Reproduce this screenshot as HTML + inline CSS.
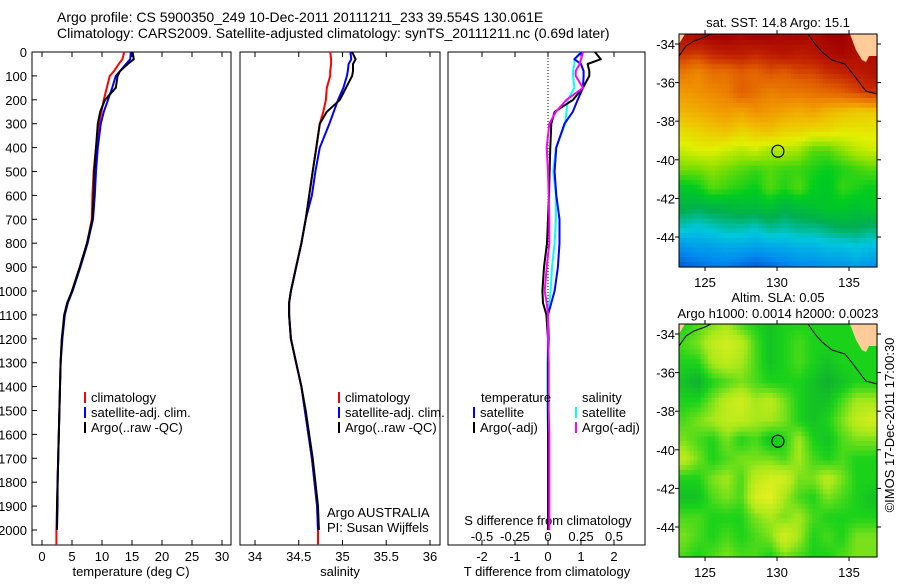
<!DOCTYPE html>
<html><head><meta charset="utf-8">
<style>
html,body{margin:0;padding:0;background:#fff;}
svg text{font-family:"Liberation Sans",sans-serif;font-size:13px;fill:#000;}
</style></head>
<body>
<svg id="chart" width="900" height="580" viewBox="0 0 900 580" xmlns="http://www.w3.org/2000/svg">
<rect width="900" height="580" fill="#fff"/>
<text x="57" y="22" style="font-size:14px">Argo profile: CS 5900350_249 10-Dec-2011 20111211_233 39.554S 130.061E</text>
<text x="57" y="38" style="font-size:14px">Climatology: CARS2009. Satellite-adjusted climatology: synTS_20111211.nc (0.69d later)</text>
<g id="g"></g>
</svg>
<script>
// ---- profile data ----
const depths = [0,30,50,80,100,150,200,250,300,400,500,600,700,800,900,1000,1050,1100,1200,1300,1400,1500,1600,1700,1800,1900,2000,2060];
const tempClim = [13.7,13.4,12.8,12.0,11.3,10.8,10.3,9.9,9.5,9.0,8.6,8.4,8.3,7.5,6.3,5.0,4.3,3.8,3.3,3.1,3.0,2.9,2.8,2.7,2.6,2.5,2.4,2.4];
const tempSat = [14.8,14.7,14.0,13.0,12.3,11.7,11.0,10.3,9.8,9.3,9.0,8.8,8.5,7.6,6.4,5.1,4.3,3.8,3.4,3.1,3.0,2.9,2.8,2.7,2.6,2.6,2.5,null];
const tempArgo = [15.1,15.3,14.3,13.0,12.6,12.3,10.5,9.7,9.3,9.0,8.7,8.6,8.4,7.5,6.3,5.0,4.2,3.7,3.3,3.1,3.0,2.9,2.8,2.7,2.6,2.5,2.5,null];
const salClim = [34.86,34.87,34.87,34.86,34.86,34.82,34.81,34.78,34.74,34.70,34.66,34.62,34.58,34.53,34.47,34.41,34.39,34.39,34.41,34.47,34.53,34.57,34.61,34.65,34.68,34.71,34.72,34.72];
const salSat = [35.09,35.10,35.07,35.06,35.05,35.01,34.95,34.90,34.85,34.74,34.69,34.65,34.58,34.53,34.47,34.41,34.39,34.39,34.41,34.47,34.53,34.57,34.61,34.65,34.68,34.71,34.72,null];
const salArgo = [35.11,35.15,35.12,35.12,35.11,35.04,34.97,34.82,34.74,34.70,34.66,34.62,34.58,34.53,34.47,34.41,34.39,34.39,34.41,34.47,34.53,34.58,34.62,34.66,34.69,34.72,34.73,null];
const dTArgo = [1.42,1.6,1.2,1.25,1.25,1.06,0.76,0.2,0.1,0.07,0.05,0.03,0.0,-0.03,-0.12,-0.17,-0.15,-0.05,0.0,0.0,0.0,0.0,0.0,0.0,0.0,0.0,0.0,null];
const dTSat = [1.02,0.8,1.0,1.08,1.08,1.06,0.9,0.75,0.5,0.25,0.2,0.25,0.35,0.35,0.3,0.2,0.1,0.0,0.02,0.0,0.0,0.0,0.0,0.0,0.0,0.0,0.0,null];
const dSArgo = [0.265,0.25,0.24,0.21,0.21,0.265,0.14,0.06,0.01,-0.01,0.0,0.005,0.01,0.01,-0.01,-0.025,-0.01,0.0,0.0,0.005,0.005,0.005,0.01,0.01,0.01,0.01,0.01,null];
const dSSat = [0.25,0.2,0.2,0.19,0.19,0.2,0.15,0.14,0.13,0.06,0.04,0.06,0.06,0.05,0.03,0.02,0.01,0.0,0.0,-0.005,-0.005,-0.005,0.0,0.0,0.0,0.0,0.0,null];
const depthTicks = [0,100,200,300,400,500,600,700,800,900,1000,1100,1200,1300,1400,1500,1600,1700,1800,1900,2000];
const tempTicks = [0,5,10,15,20,25,30];
const salTicks = [34,34.5,35,35.5,36];
const salTickLabels = ["34","34.5","35","35.5","36"];
const dTTicks = [-2,-1,0,1,2];
const dSTicks = [-0.5,-0.25,0,0.25,0.5];
const dSTickLabels = ["-0.5","-0.25","0","0.25","0.5"];
// ---- map data ----
const mapLons = [123.5,124.5,125.5,126.5,127.5,128.5,129.5,130.5,131.5,132.5,133.5,134.5,135.5,136.5];
const mapLats = [-33.5,-34.5,-35.5,-36.5,-37.5,-38.5,-39.5,-40.5,-41.5,-42.5,-43.5,-44.5,-45.5];
const sstGrid = [
[17.6,17.7,17.8,17.8,17.7,17.8,17.8,17.7,17.8,17.6,17.8,17.8,17.6,17.6],
[17.2,17.1,17.3,17.4,17.4,17.3,17.4,17.5,17.4,17.5,17.6,17.7,17.6,17.6],
[16.5,16.3,16.6,16.6,16.8,16.7,16.9,16.8,17.0,17.0,17.2,17.3,17.4,17.5],
[16.1,16.2,16.3,16.4,16.8,16.6,16.4,16.5,16.5,16.6,16.7,16.8,17.0,17.2],
[15.8,15.9,16.0,16.1,16.0,16.2,16.1,16.0,15.9,16.0,15.8,15.7,15.6,15.6],
[15.4,15.5,15.6,15.7,15.5,15.6,15.7,15.5,15.5,15.4,15.4,15.3,15.3,15.3],
[15.1,15.2,15.2,15.1,15.0,15.1,14.9,15.0,14.9,14.6,14.6,14.8,15.0,15.1],
[14.7,14.7,14.8,14.7,14.6,14.5,14.6,14.5,14.5,14.4,14.3,14.4,14.5,14.6],
[14.2,14.3,14.6,14.5,14.4,14.3,14.6,14.4,14.6,14.3,14.2,14.5,14.4,14.3],
[13.9,13.8,13.9,13.9,14.0,14.0,14.1,13.9,14.0,14.1,14.2,14.2,14.1,14.2],
[13.4,13.3,13.4,13.5,13.5,13.4,13.6,13.5,13.6,13.6,13.7,13.8,13.8,13.7],
[12.8,12.9,12.9,13.0,13.0,12.9,13.0,13.0,13.1,13.1,13.2,13.2,13.3,13.2],
[12.4,12.5,12.6,12.6,12.5,12.4,12.5,12.6,12.7,12.7,12.8,12.8,12.9,12.8]];
const slaGrid = [
[.3,.4,.5,.6,.4,.3,.2,.3,.3,.3,.3,.3,.3,.3],
[.4,.5,.7,.8,.7,.4,.2,.3,.4,.3,.3,.3,.3,.3],
[.3,.3,.6,.7,.6,.4,.2,.3,.4,.3,.2,.3,.3,.3],
[.2,.1,.3,.4,.5,.4,.3,.3,.3,.2,.1,.2,.3,.3],
[.3,.3,.5,.7,.8,.6,.7,.5,.3,.2,.2,.4,.6,.6],
[.4,.5,.6,.7,.7,.6,.6,.5,.3,.2,.3,.5,.7,.8],
[.5,.4,.3,.5,.3,.4,.2,.3,.6,.3,.2,.4,.5,.5],
[.7,.5,.3,.4,.5,.5,.5,.4,.6,.4,.3,.4,.3,.3],
[.3,.3,.5,.6,.4,.7,.8,.8,.5,.5,.7,.5,.3,.3],
[.2,.2,.4,.5,.4,.8,.9,.6,.4,.3,.5,.4,.3,.2],
[.4,.4,.3,.3,.3,.5,.6,.5,.6,.4,.3,.3,.3,.3],
[.5,.4,.3,.4,.3,.4,.5,.8,.6,.3,.4,.3,.5,.5],
[.4,.3,.4,.5,.4,.4,.3,.5,.4,.3,.3,.4,.5,.5]];
const lonTicks = [125,130,135];
const latTicks = [-34,-36,-38,-40,-42,-44];
const argoLon = 130.061, argoLat = -39.554;

const NS="http://www.w3.org/2000/svg";
const G=document.getElementById('g');
function mk(tag,attrs,parent){const e=document.createElementNS(NS,tag);for(const k in attrs)e.setAttribute(k,attrs[k]);(parent||G).appendChild(e);return e;}
function txt(x,y,s,anchor,parent){const t=mk('text',{x:x,y:y,'text-anchor':anchor||'start'},parent);t.textContent=s;return t;}

const PT=52, PB=545;
const yD = d => PT + d*0.239;
const P1={l:32,r:231}, P2={l:240,r:440}, P3={l:448,r:645};
const xT = v => 42 + v*6;
const xS = v => 255 + (v-34)*87.5;
const xDT = v => 548 + v*33;
const xDS = v => 548 + v*132;

function frame(p,name){const r=mk('rect',{x:p.l,y:PT,width:p.r-p.l,height:PB-PT,fill:'none',stroke:'#000','stroke-width':1});

}
frame(P1,'temperature-plot-frame');frame(P2,'salinity-plot-frame');frame(P3,'difference-plot-frame');

// depth ticks
depthTicks.forEach(d=>{
  const y=yD(d);
  mk('line',{x1:P1.l,x2:P1.l+5,y1:y,y2:y,stroke:'#000'});
  const t=txt(27,y+5,String(d),'end');
  
  
});
function xticks(ticks,labels,fx,ly,name){
  ticks.forEach((v,i)=>{const x=fx(v);
    mk('line',{x1:x,x2:x,y1:PT,y2:PT+5,stroke:'#000'});
    mk('line',{x1:x,x2:x,y1:PB,y2:PB-5,stroke:'#000'});
    const t=txt(x,ly,labels[i],'middle');
    
    
  });
}
xticks(tempTicks,tempTicks.map(String),xT,561,'temperature-tick-label');
xticks(salTicks,salTickLabels,xS,561,'salinity-tick-label');
xticks(dTTicks,dTTicks.map(String),xDT,561,'t-difference-tick-label');
dSTicks.forEach((v,i)=>{const t=txt(xDS(v),541,dSTickLabels[i],'middle');
  
  });

[['temperature (deg C)',131,'temperature-axis-title'],['salinity',340,'salinity-axis-title'],['T difference from climatology',547,'t-difference-axis-title']].forEach(a=>{
  const t=txt(a[1],576,a[0],'middle');});
{const t=txt(548,525,'S difference from climatology','middle');}

// zero dotted line
{const l=mk('line',{x1:548,x2:548,y1:PT,y2:PB,stroke:'#000','stroke-dasharray':'1,2'});
}

function line(vals,fx,color,name){
  const pts=[];depths.forEach((d,i)=>{if(vals[i]!==null)pts.push(fx(vals[i]).toFixed(1)+','+yD(d).toFixed(1));});
  const p=mk('polyline',{points:pts.join(' '),fill:'none',stroke:color,'stroke-width':2,'stroke-linejoin':'round'});
  
  
}
line(tempClim,xT,'#ff0000','temperature-climatology-line');
line(tempSat,xT,'#0000ff','temperature-satellite-line');
line(tempArgo,xT,'#000000','temperature-argo-line');
line(salClim,xS,'#ff0000','salinity-climatology-line');
line(salSat,xS,'#0000ff','salinity-satellite-line');
line(salArgo,xS,'#000000','salinity-argo-line');
line(dSSat,xDS,'#00ffff','s-difference-satellite-line');
line(dTSat,xDT,'#0000ff','t-difference-satellite-line');
line(dTArgo,xDT,'#000000','t-difference-argo-line');
line(dSArgo,xDS,'#ff00ff','s-difference-argo-line');

// legends
function legend(x,y,color,label){
  const g=mk('g',{});
  
  
  mk('rect',{x:x,y:y-10,width:2,height:11,fill:color},g);
  txt(x+7,y,label,'start',g);
}
legend(84,402,'#ff0000','climatology');legend(84,417,'#0000ff','satellite-adj. clim.');legend(84,432,'#000000','Argo(..raw -QC)');
legend(338,402,'#ff0000','climatology');legend(338,417,'#0000ff','satellite-adj. clim.');legend(338,432,'#000000','Argo(..raw -QC)');
{const t=txt(481,402,'temperature');}
{const t=txt(582,402,'salinity');}
legend(473,417,'#0000ff','satellite');legend(473,432,'#000000','Argo(-adj)');
legend(575,417,'#00ffff','satellite');legend(575,432,'#ff00ff','Argo(-adj)');
{const t=txt(327,517,'Argo AUSTRALIA');}
{const t=txt(327,532,'PI: Susan Wijffels');}

// ---- maps ----
function sstColor(v){
  const st=[[12.0,[0,40,190]],[12.7,[0,140,240]],[13.3,[0,200,220]],[13.8,[0,175,80]],[14.3,[0,205,30]],[14.8,[140,225,0]],[15.2,[225,240,0]],[15.7,[240,190,0]],[16.2,[240,145,0]],[16.8,[225,95,0]],[17.3,[195,35,0]],[17.8,[160,0,0]]];
  return ramp(v,st);
}
function slaColor(v){
  const st=[[0,[10,160,60]],[0.3,[26,210,26]],[0.6,[168,232,26]],[0.9,[232,240,32]]];
  return ramp(v,st);
}
function ramp(v,st){
  if(v<=st[0][0])return 'rgb('+st[0][1]+')';
  for(let i=1;i<st.length;i++){if(v<=st[i][0]){const a=st[i-1],b=st[i],f=(v-a[0])/(b[0]-a[0]);
    return 'rgb('+a[1].map((c,k)=>Math.round(c+(b[1][k]-c)*f)).join(',')+')';}}
  return 'rgb('+st[st.length-1][1]+')';
}
function bilin(grid,lon,lat){
  let fi=(lon-mapLons[0]), fj=(mapLats[0]-lat);
  fi=Math.max(0,Math.min(mapLons.length-1.001,fi)); fj=Math.max(0,Math.min(mapLats.length-1.001,fj));
  const i=Math.floor(fi), j=Math.floor(fj), u=fi-i, w=fj-j;
  return grid[j][i]*(1-u)*(1-w)+grid[j][i+1]*u*(1-w)+grid[j+1][i]*(1-u)*w+grid[j+1][i+1]*u*w;
}
function drawMap(top,grid,colorFn,name){
  const L=679,R=877,T=top,B=top+233;
  const xL=lon=>777+(lon-130)*14.4;
  const yL=lat=>T+10+(-34-lat)*19.3;
  const g=mk('g',{});
  
  
  const cs=0.25;
  for(let lat=-33.3;lat>-45.75;lat-=cs){
    for(let lon=123.2;lon<136.95;lon+=cs){
      const x0=Math.max(L,xL(lon)), x1=Math.min(R,xL(lon+cs)), y0=Math.max(T,yL(lat)), y1=Math.min(B,yL(lat-cs));
      if(x1<=x0||y1<=y0)continue;
      mk('rect',{x:x0.toFixed(1),y:y0.toFixed(1),width:(x1-x0+0.6).toFixed(1),height:(y1-y0+0.6).toFixed(1),fill:colorFn(bilin(grid,lon+cs/2,lat-cs/2))},g);
    }
  }
  // land
  mk('polygon',{points:`${L},${T} ${L+6},${T} ${L},${T+10}`,fill:'#ffcc99'},g);
  mk('polygon',{points:`850,${T} ${R},${T} ${R},${T+22} 869,${T+22} 866,${T+28} 862,${T+26} 856,${T+16}`,fill:'#ffcc99'},g);
  mk('polyline',{points:`${L},${T+22} 686,${T+12} 694,${T+7} 705,${T+3} 711,${T}`,fill:'none',stroke:'#000','stroke-width':1},g);
  mk('polyline',{points:`808,${T} 815,${T+10} 822,${T+18} 832,${T+26} 845,${T+30} 853,${T+40} 862,${T+52} 866,${T+57} ${R},${T+60}`,fill:'none',stroke:'#000','stroke-width':1},g);
  const fr=mk('rect',{x:L,y:T,width:R-L,height:B-T,fill:'none',stroke:'#000'});
  
  
  lonTicks.forEach(v=>{const x=xL(v);mk('line',{x1:x,x2:x,y1:T,y2:T-4,stroke:'#000'});mk('line',{x1:x,x2:x,y1:B,y2:B+4,stroke:'#000'});
    const t=txt(x,B+20,String(v),'middle');});
  latTicks.forEach(v=>{const y=yL(v);mk('line',{x1:L,x2:L-4,y1:y,y2:y,stroke:'#000'});mk('line',{x1:R,x2:R+4,y1:y,y2:y,stroke:'#000'});
    const t=txt(675,y+5,String(v),'end');});
  const c=mk('circle',{cx:xL(argoLon),cy:yL(argoLat),r:6,fill:'none',stroke:'#000','stroke-width':1.2});
  
  
}
drawMap(34,sstGrid,sstColor,'sst-map');
drawMap(324,slaGrid,slaColor,'sla-map');
{const t=txt(778,27,'sat. SST: 14.8 Argo: 15.1','middle');}
{const t=txt(778,302,'Altim. SLA: 0.05','middle');}
{const t=txt(778,318,'Argo h1000: 0.0014 h2000: 0.0023','middle');}
{const t=txt(0,0,'©IMOS 17-Dec-2011 17:00:30','middle');t.setAttribute('transform','translate(894,425) rotate(-90)');
}
</script>
</body></html>
